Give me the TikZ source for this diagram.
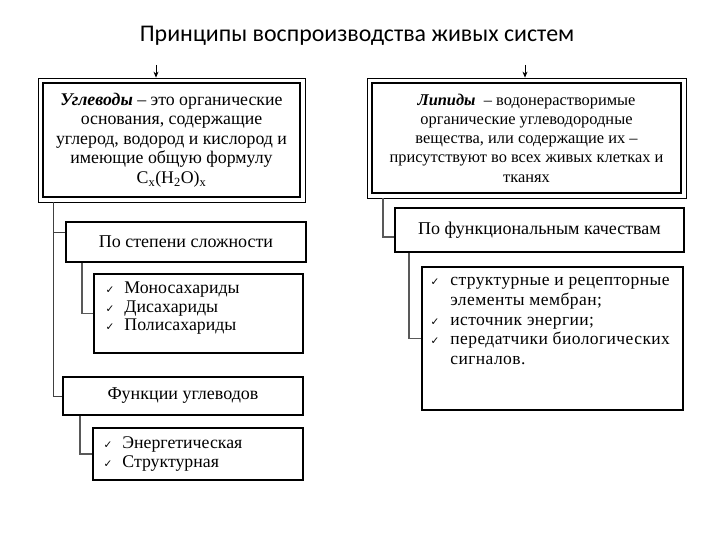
\documentclass[tikz,border=0pt]{standalone}
\usepackage{fontspec}
\setmainfont{Liberation Serif}
\newfontfamily\titlefont{Carlito}
\newfontfamily\symfont{DejaVu Sans}
\newfontfamily\widefont[LetterSpace=2.4]{Liberation Serif}
\usetikzlibrary{fit,arrows.meta}
\newcommand{\chk}{{\symfont\fontsize{10.5}{10}\selectfont ✓}}
\begin{document}
\begin{tikzpicture}[x=1pt,y=-1pt,
  box/.style={draw=black, line width=1.2pt, inner sep=0pt},
  bigbox/.style={draw=black, line width=2.4pt, inner sep=0pt, align=center,
    font=\fontsize{17.8}{19.6}\selectfont},
  frame/.style={draw=black, line width=0.8pt, inner sep=3.8pt},
  conn/.style={draw=black!75, line width=0.9pt},
  subconn/.style={draw=black!65, line width=1.8pt},
  arr/.style={draw=black, line width=0.8pt, -{Stealth[length=6pt,width=5pt]}},
  lbl/.style={inner sep=0pt, font=\fontsize{18}{19}\selectfont},
  listtext/.style={inner sep=0pt, anchor=north west, align=left}]
\useasboundingbox[fill=white] (0,0) rectangle (720,540);

% title
\node[inner sep=0pt, font=\titlefont\fontsize{23.9}{27}\selectfont] (title) at (357,36)
  {Принципы воспроизводства живых систем};

% ---- left column ----
\node[bigbox, minimum width=257, minimum height=114] (cL) at (171.5,140)
  {\textbf{\textit{Углеводы}} – это органические\\основания, содержащие\\углерод, водород и кислород и\\имеющие общую формулу\\C\textsubscript{x}(H\textsubscript{2}O)\textsubscript{x}};
\node[frame, fit=(cL)] (oL) {};
\coordinate (tL) at (156,65);
\draw[arr] (tL) -- (tL |- oL.north);

\node[box, minimum width=240, minimum height=40, lbl] (sL) at (186,242) {По степени сложности};
\node[box, minimum width=209, minimum height=79] (lA) at (198.5,313.5) {};
\node[listtext] (tA) at ([xshift=12pt,yshift=-7pt]lA.north west)
  {\fontsize{17.8}{18.5}\selectfont\begin{tabular}{@{}l@{\hspace{10pt}}l@{}}
   \chk & Моносахариды\\ \chk & Дисахариды\\ \chk & Полисахариды\end{tabular}};

\node[box, minimum width=240, minimum height=38, lbl] (fL) at (183,396) {Функции углеводов};
\node[box, minimum width=210, minimum height=52] (lB) at (198,454) {};
\node[listtext] (tB) at ([xshift=11pt,yshift=-7pt]lB.north west)
  {\fontsize{17.8}{19.5}\selectfont\begin{tabular}{@{}l@{\hspace{10pt}}l@{}}
   \chk & Энергетическая\\ \chk & Структурная\end{tabular}};

\coordinate (vL) at (53,0);
\coordinate (bS) at (0,232);
\coordinate (vA) at (82,0);
\coordinate (vB) at (80,0);
\draw[conn] (vL |- oL.south) |- (fL.west);
\draw[conn] (vL |- bS) -- (sL.west |- bS);
\draw[subconn] (vA |- sL.south) |- (lA.west);
\draw[subconn] (vB |- fL.south) |- (lB.west);

% ---- right column ----
\node[bigbox, minimum width=309, minimum height=110, font=\fontsize{16.4}{19.2}\selectfont] (cR) at (526.5,138)
  {\textbf{\textit{Липиды}} \ – водонерастворимые\\органические углеводородные\\вещества, или содержащие их –\\присутствуют во всех живых клетках и\\тканях};
\node[frame, fit=(cR)] (oR) {};
\coordinate (tR) at (525,65);
\draw[arr] (tR) -- (tR |- oR.north);

\node[box, minimum width=289, minimum height=44, lbl] (pR) at (539.5,230) {По функциональным качествам};
\node[box, minimum width=261, minimum height=143] (lC) at (552.5,338.5) {};
\node[listtext] (tC) at ([xshift=9pt,yshift=-5pt]lC.north west)
  {\widefont\fontsize{17.5}{19.8}\selectfont\begin{tabular}{@{}l@{\hspace{11pt}}l@{}}
   \chk & структурные и рецепторные\\ & элементы мембран;\\ \chk & источник энергии;\\
   \chk & передатчики биологических\\ & сигналов.\end{tabular}};

\coordinate (vR) at (383,0);
\coordinate (bP) at (0,237);
\coordinate (vC) at (409,0);
\draw[subconn, line width=1.4pt] (vR |- oR.south) |- (pR.west |- bP);
\draw[subconn] (vC |- pR.south) |- (lC.west);
\end{tikzpicture}
\end{document}
